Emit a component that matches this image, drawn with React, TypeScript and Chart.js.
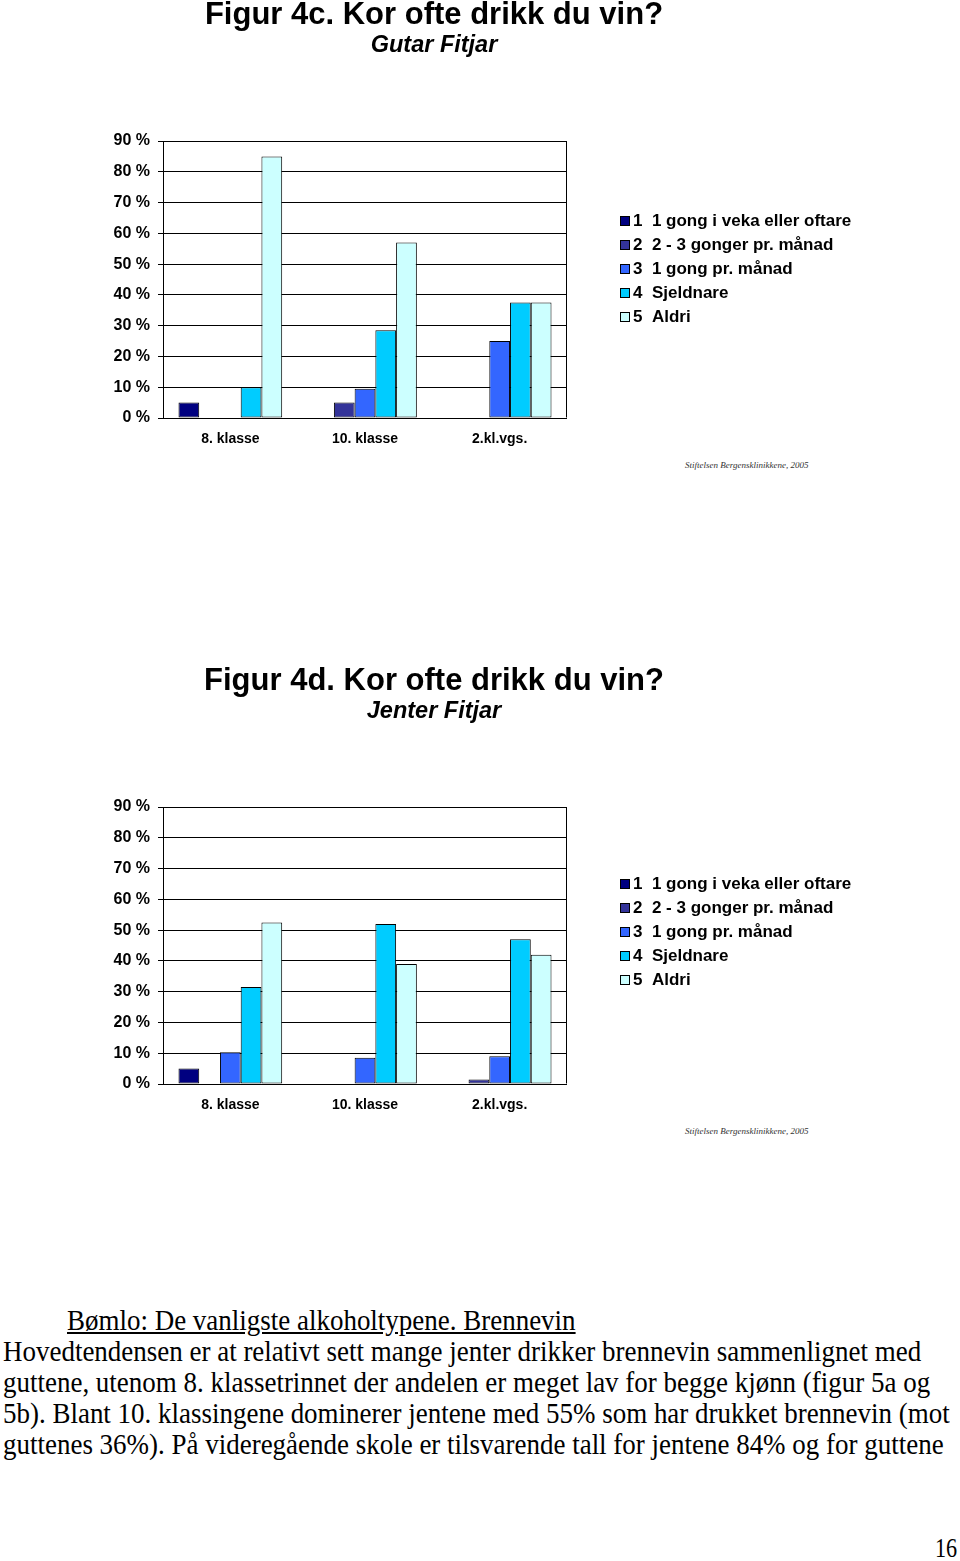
import React, { useEffect, useRef } from "react";
import { Chart, registerables } from "chart.js";

Chart.register(...registerables);

// ---------- data ----------
const categories = ["8. klasse", "10. klasse", "2.kl.vgs."];
const seriesLabels = [
  "1  1 gong i veka eller oftare",
  "2  2 - 3 gonger pr. månad",
  "3  1 gong pr. månad",
  "4  Sjeldnare",
  "5  Aldri",
];
const seriesColors = ["#000080", "#333399", "#3366FF", "#00CCFF", "#CCFFFF"];
const yTicks = [0, 10, 20, 30, 40, 50, 60, 70, 80, 90];

// Figur 4c – Gutar Fitjar
const gutarOftare = [5, 0, 0];
const gutar2til3 = [0, 5, 0];
const gutar1gong = [0, 9.5, 25];
const gutarSjeldnare = [10, 28.5, 37.5];
const gutarAldri = [85, 57, 37.5];

// Figur 4d – Jenter Fitjar
const jenterOftare = [5, 0, 0];
const jenter2til3 = [0, 0, 1.5];
const jenter1gong = [10.3, 8.5, 9];
const jenterSjeldnare = [31.5, 52, 47];
const jenterAldri = [52.5, 39, 42];

const SANS = "'Liberation Sans', Arial, Helvetica, sans-serif";
const SERIF = "'Liberation Serif', 'Times New Roman', Times, serif";

const framePlugin = {
  id: "frame",
  afterDatasetsDraw(chart: any) {
    const { ctx, chartArea: a } = chart;
    ctx.save();
    ctx.strokeStyle = "#000";
    ctx.lineWidth = 1;
    const l = Math.round(a.left) + 0.5;
    const r = Math.round(a.right) - 0.5;
    const t = Math.round(a.top) + 0.5;
    const b = Math.round(a.bottom) - 0.5;
    ctx.beginPath();
    ctx.moveTo(l, t);
    ctx.lineTo(r, t);
    ctx.lineTo(r, b);
    ctx.stroke();
    ctx.restore();
  },
};

// legend drawn beside the plot, from the chart's own datasets
const sideLegendPlugin = {
  id: "sideLegend",
  afterDraw(chart: any, _args: any, opts: any) {
    const { ctx, chartArea: a } = chart;
    const x0 = Math.round(a.right) + 53;
    const y0 = a.top + (opts.offsetY ?? 79.5);
    ctx.save();
    ctx.font = `bold 17px ${SANS}`;
    ctx.textBaseline = "middle";
    ctx.textAlign = "left";
    chart.data.datasets.forEach((ds: any, i: number) => {
      const y = y0 + i * 24;
      const by = Math.round(y - 5);
      ctx.fillStyle = ds.backgroundColor;
      ctx.fillRect(x0, by, 10, 10);
      ctx.strokeStyle = "#000";
      ctx.lineWidth = 1;
      ctx.strokeRect(x0 + 0.5, by + 0.5, 9, 9);
      ctx.fillStyle = "#000";
      ctx.fillText(ds.label, x0 + 13, y + 0.5);
    });
    ctx.restore();
  },
};

type Props = {
  top: number;
  title: string;
  subtitle: string;
  series: number[][];
  legendOffset: number;
};

function BarChart({ top, title, subtitle, series, legendOffset }: Props) {
  const ref = useRef<HTMLCanvasElement>(null);
  useEffect(() => {
    const datasets = seriesLabels.map((label, i) => ({
      label,
      data: series[i].map((v) => (v === 0 ? null : v)),
      backgroundColor: seriesColors[i],
      borderColor: "#000",
      borderWidth: 1,
      borderSkipped: false,
      categoryPercentage: 0.77,
      barPercentage: 1,
      yAxisID: "y",
    }));
    const chart = new Chart(ref.current as HTMLCanvasElement, {
      type: "bar",
      data: { labels: categories, datasets },
      plugins: [framePlugin, sideLegendPlugin],
      options: {
        responsive: false,
        animation: false,
        devicePixelRatio: 1,
        layout: { padding: { left: 7, right: 7, top: 0, bottom: 0 } },
        plugins: {
          tooltip: { enabled: false },
          legend: { display: false },
          sideLegend: { offsetY: legendOffset },
          title: {
            display: true,
            text: title,
            color: "#000",
            font: { family: SANS, size: 31, weight: "bold", lineHeight: 0.9 },
            padding: { top: 2, bottom: 2 },
          },
          subtitle: {
            display: true,
            text: subtitle,
            color: "#000",
            font: { family: SANS, size: 23.5, weight: "bold", style: "italic" },
            padding: { top: 0, bottom: 80.9 },
          },
        },
        scales: {
          x: {
            grid: { display: false, drawTicks: false },
            border: { display: false },
            ticks: {
              color: "#000",
              padding: 13,
              font: { family: SANS, size: 14, weight: "bold" },
            },
            afterFit: (s: any) => {
              s.height = 40;
            },
          },
          y: {
            min: 0,
            max: 90,
            afterBuildTicks: (s: any) => {
              s.ticks = yTicks.map((v) => ({ value: v }));
            },
            grid: { color: "#000", lineWidth: 1, tickLength: 5, drawTicks: true },
            border: { display: true, color: "#000", width: 1 },
            ticks: {
              color: "#000",
              padding: 8,
              font: { family: SANS, size: 16, weight: "bold" },
              callback: (v: any) => v + " %",
            },
            afterFit: (s: any) => {
              s.width = 148;
            },
          },
          yR: {
            type: "linear",
            position: "right",
            display: true,
            grid: { display: false, drawTicks: false },
            border: { display: false },
            ticks: { display: false },
            afterFit: (s: any) => {
              s.width = 286;
            },
          },
        },
      } as any,
    });
    return () => chart.destroy();
  }, []);
  return (
    <canvas
      ref={ref}
      width={852}
      height={458}
      style={{ position: "absolute", left: 8, top, width: 852, height: 458 }}
    />
  );
}

const credit: React.CSSProperties = {
  position: "absolute",
  left: 685,
  fontFamily: SERIF,
  fontStyle: "italic",
  fontSize: 9,
  lineHeight: "12px",
  color: "#333",
  whiteSpace: "nowrap",
};

const para: React.CSSProperties = {
  position: "absolute",
  left: 3,
  fontFamily: SERIF,
  fontSize: 29,
  lineHeight: "31px",
  color: "#000",
  whiteSpace: "nowrap",
  transform: "scaleX(0.93)",
  transformOrigin: "0 0",
};

export default function App() {
  return (
    <div
      style={{
        position: "absolute",
        left: 0,
        top: 0,
        width: 960,
        height: 1560,
        overflow: "hidden",
        background: "#fff",
      }}
    >
      <BarChart
        top={0}
        title="Figur 4c. Kor ofte drikk du vin?"
        subtitle="Gutar Fitjar"
        series={[gutarOftare, gutar2til3, gutar1gong, gutarSjeldnare, gutarAldri]}
        legendOffset={79.5}
      />
      <div style={{ ...credit, top: 459 }}>Stiftelsen Bergensklinikkene, 2005</div>
      <BarChart
        top={666}
        title="Figur 4d. Kor ofte drikk du vin?"
        subtitle="Jenter Fitjar"
        series={[jenterOftare, jenter2til3, jenter1gong, jenterSjeldnare, jenterAldri]}
        legendOffset={76.5}
      />
      <div style={{ ...credit, top: 1125 }}>Stiftelsen Bergensklinikkene, 2005</div>

      <div style={{ ...para, left: 67, top: 1305, textDecoration: "underline" }}>
        Bømlo: De vanligste alkoholtypene. Brennevin
      </div>
      <div style={{ ...para, top: 1336 }}>
        Hovedtendensen er at relativt sett mange jenter drikker brennevin sammenlignet med
      </div>
      <div style={{ ...para, top: 1367 }}>
        guttene, utenom 8. klassetrinnet der andelen er meget lav for begge kjønn (figur 5a og
      </div>
      <div style={{ ...para, top: 1398 }}>
        5b). Blant 10. klassingene dominerer jentene med 55% som har drukket brennevin (mot
      </div>
      <div style={{ ...para, top: 1429 }}>
        guttenes 36%). På videregående skole er tilsvarende tall for jentene 84% og for guttene
      </div>
      <div style={{ ...para, left: 935, top: 1533, fontSize: 27, transform: "scaleX(0.82)" }}>16</div>
    </div>
  );
}
